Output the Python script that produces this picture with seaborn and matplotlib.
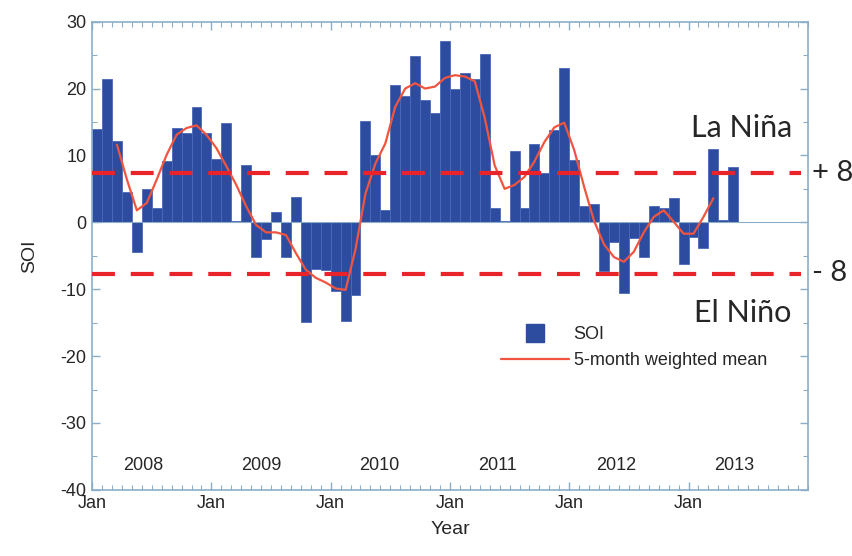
import numpy as np
import pandas as pd
import matplotlib
matplotlib.use("Agg")
import matplotlib.pyplot as plt
from matplotlib.lines import Line2D
from matplotlib.ticker import FixedLocator, MultipleLocator
import seaborn as sns

# ==========================================
# DATA (monthly SOI, Jan 2008 - May 2013)
# ==========================================

soi = [
    14.0, 21.4, 12.2, 4.5, -4.5, 5.0, 2.2, 9.1, 14.1, 13.4, 17.2, 13.3,      # 2008
    9.4, 14.8, 0.2, 8.6, -5.2, -2.5, 1.6, -5.2, 3.8, -14.9, -7.0, -7.1,      # 2009
    -10.2, -14.7, -10.8, 15.2, 10.0, 1.8, 20.5, 18.9, 24.9, 18.3, 16.3, 27.1,  # 2010
    20.0, 22.3, 21.4, 25.1, 2.1, 0.2, 10.6, 2.1, 11.7, 7.3, 13.8, 23.0,      # 2011
    9.3, 2.4, 2.8, -7.3, -3.0, -10.6, -2.3, -5.2, 2.5, 2.2, 3.7, -6.3,       # 2012
    -2.2, -3.8, 10.9, 0.3, 8.2,                                              # 2013
]

# 5-month weighted mean, Mar 2008 - Mar 2013
mean_start = 2
soi_mean = [
    11.6, 6.4, 1.8, 2.9, 6.4, 10.1, 13.1, 14.1, 14.5, 13.1,
    11.1, 8.4, 5.6, 2.4, -0.4, -1.5, -1.5, -1.9, -4.6, -7.1,
    -8.3, -9.0, -9.9, -10.1, -4.0, 4.3, 8.8, 11.8, 17.3, 20.0,
    20.8, 20.0, 20.3, 21.6, 22.0, 21.8, 21.1, 15.6, 8.5, 5.0,
    5.6, 6.8, 9.1, 12.0, 14.2, 14.9, 10.8, 5.3, 0.2, -3.3,
    -5.2, -5.9, -4.4, -1.5, 0.8, 1.8, 0.1, -1.7, -1.7, 0.8,
    3.6,
]

years = ["2008", "2009", "2010", "2011", "2012", "2013"]
thresholds = [7.4, -7.8]

# ==========================================
# STYLE
# ==========================================

sns.set_style("ticks")
plt.rcParams["font.family"] = ["Liberation Sans", "DejaVu Sans"]
plt.rcParams["axes.unicode_minus"] = False

bar_color = "#2d4c9f"
line_color = "#f2553f"
dash_color = "#e8232a"
axis_color = "#8aaec8"

df = pd.DataFrame({"month": np.arange(len(soi)), "soi": soi})
df_mean = pd.DataFrame({
    "month": np.arange(len(soi_mean)) + mean_start,
    "soi": soi_mean
})

fig = plt.figure(figsize=(8.53, 5.56), dpi=100)
ax = fig.add_axes([0.108, 0.119, 0.839, 0.842])

# ==========================================
# BARS + LINE
# ==========================================

sns.barplot(
    data=df,
    x="month",
    y="soi",
    native_scale=True,
    width=1.0,
    color=bar_color,
    saturation=1,
    edgecolor="#4a69b8",
    linewidth=0.6,
    ax=ax
)

ax.axhline(0, color=axis_color, lw=0.8, zorder=1)

sns.lineplot(
    data=df_mean,
    x="month",
    y="soi",
    color=line_color,
    lw=1.6,
    ax=ax
)

for t in thresholds:
    ax.plot(
        [-0.5, 70.8], [t, t],
        color=dash_color,
        lw=3,
        linestyle=(0, (5.5, 3.8)),
        zorder=5
    )

# ==========================================
# AXES
# ==========================================

ax.set_xlim(-0.5, 71.5)
ax.set_ylim(-40, 30)

jan_pos = [-0.5 + 12 * i for i in range(6)]
ax.xaxis.set_major_locator(FixedLocator(jan_pos))
ax.xaxis.set_minor_locator(FixedLocator(np.arange(-0.5, 71.6, 1)))
ax.set_xticklabels(["Jan"] * len(jan_pos))
ax.yaxis.set_major_locator(MultipleLocator(10))
ax.yaxis.set_minor_locator(MultipleLocator(5))

ax.tick_params(
    which="both", direction="in", top=True, right=True,
    color=axis_color, labelsize=13, pad=4
)
ax.tick_params(which="major", length=6, width=1)
ax.tick_params(which="minor", length=3.5, width=0.8)

for s in ax.spines.values():
    s.set_color(axis_color)
    s.set_linewidth(1.2)

ax.set_xlabel("Year", fontsize=14, labelpad=6)
ax.set_ylabel("SOI", fontsize=14, labelpad=16)

for i, yr in enumerate(years):
    ax.text(4.6 + 11.9 * i, -36.4, yr, ha="center", va="center", fontsize=13)

# ==========================================
# ANNOTATIONS
# ==========================================

anno_font = ["Lato", "DejaVu Sans"]
ax.text(64.8, 14.1, "La Niña", ha="center", va="center",
        fontsize=22, family=anno_font, clip_on=False)
ax.text(65.0, -13.6, "El Niño", ha="center", va="center",
        fontsize=22, family=anno_font, clip_on=False)
ax.text(71.9, 7.4, "+ 8", ha="left", va="center",
        fontsize=21, family=anno_font, clip_on=False)
ax.text(71.9, -7.6, "- 8", ha="left", va="center",
        fontsize=21, family=anno_font, clip_on=False)

# ==========================================
# LEGEND
# ==========================================

handles = [
    Line2D([], [], marker="s", ms=13, color=bar_color, lw=0),
    Line2D([], [], color=line_color, lw=1.6),
]
ax.legend(
    handles,
    ["SOI", "5-month weighted mean"],
    loc="upper left",
    bbox_to_anchor=(0.548, 0.385),
    frameon=False,
    fontsize=13,
    handlelength=3.8,
    handletextpad=0.25,
    labelspacing=0.5
)

fig.savefig("out.png", dpi=100)
